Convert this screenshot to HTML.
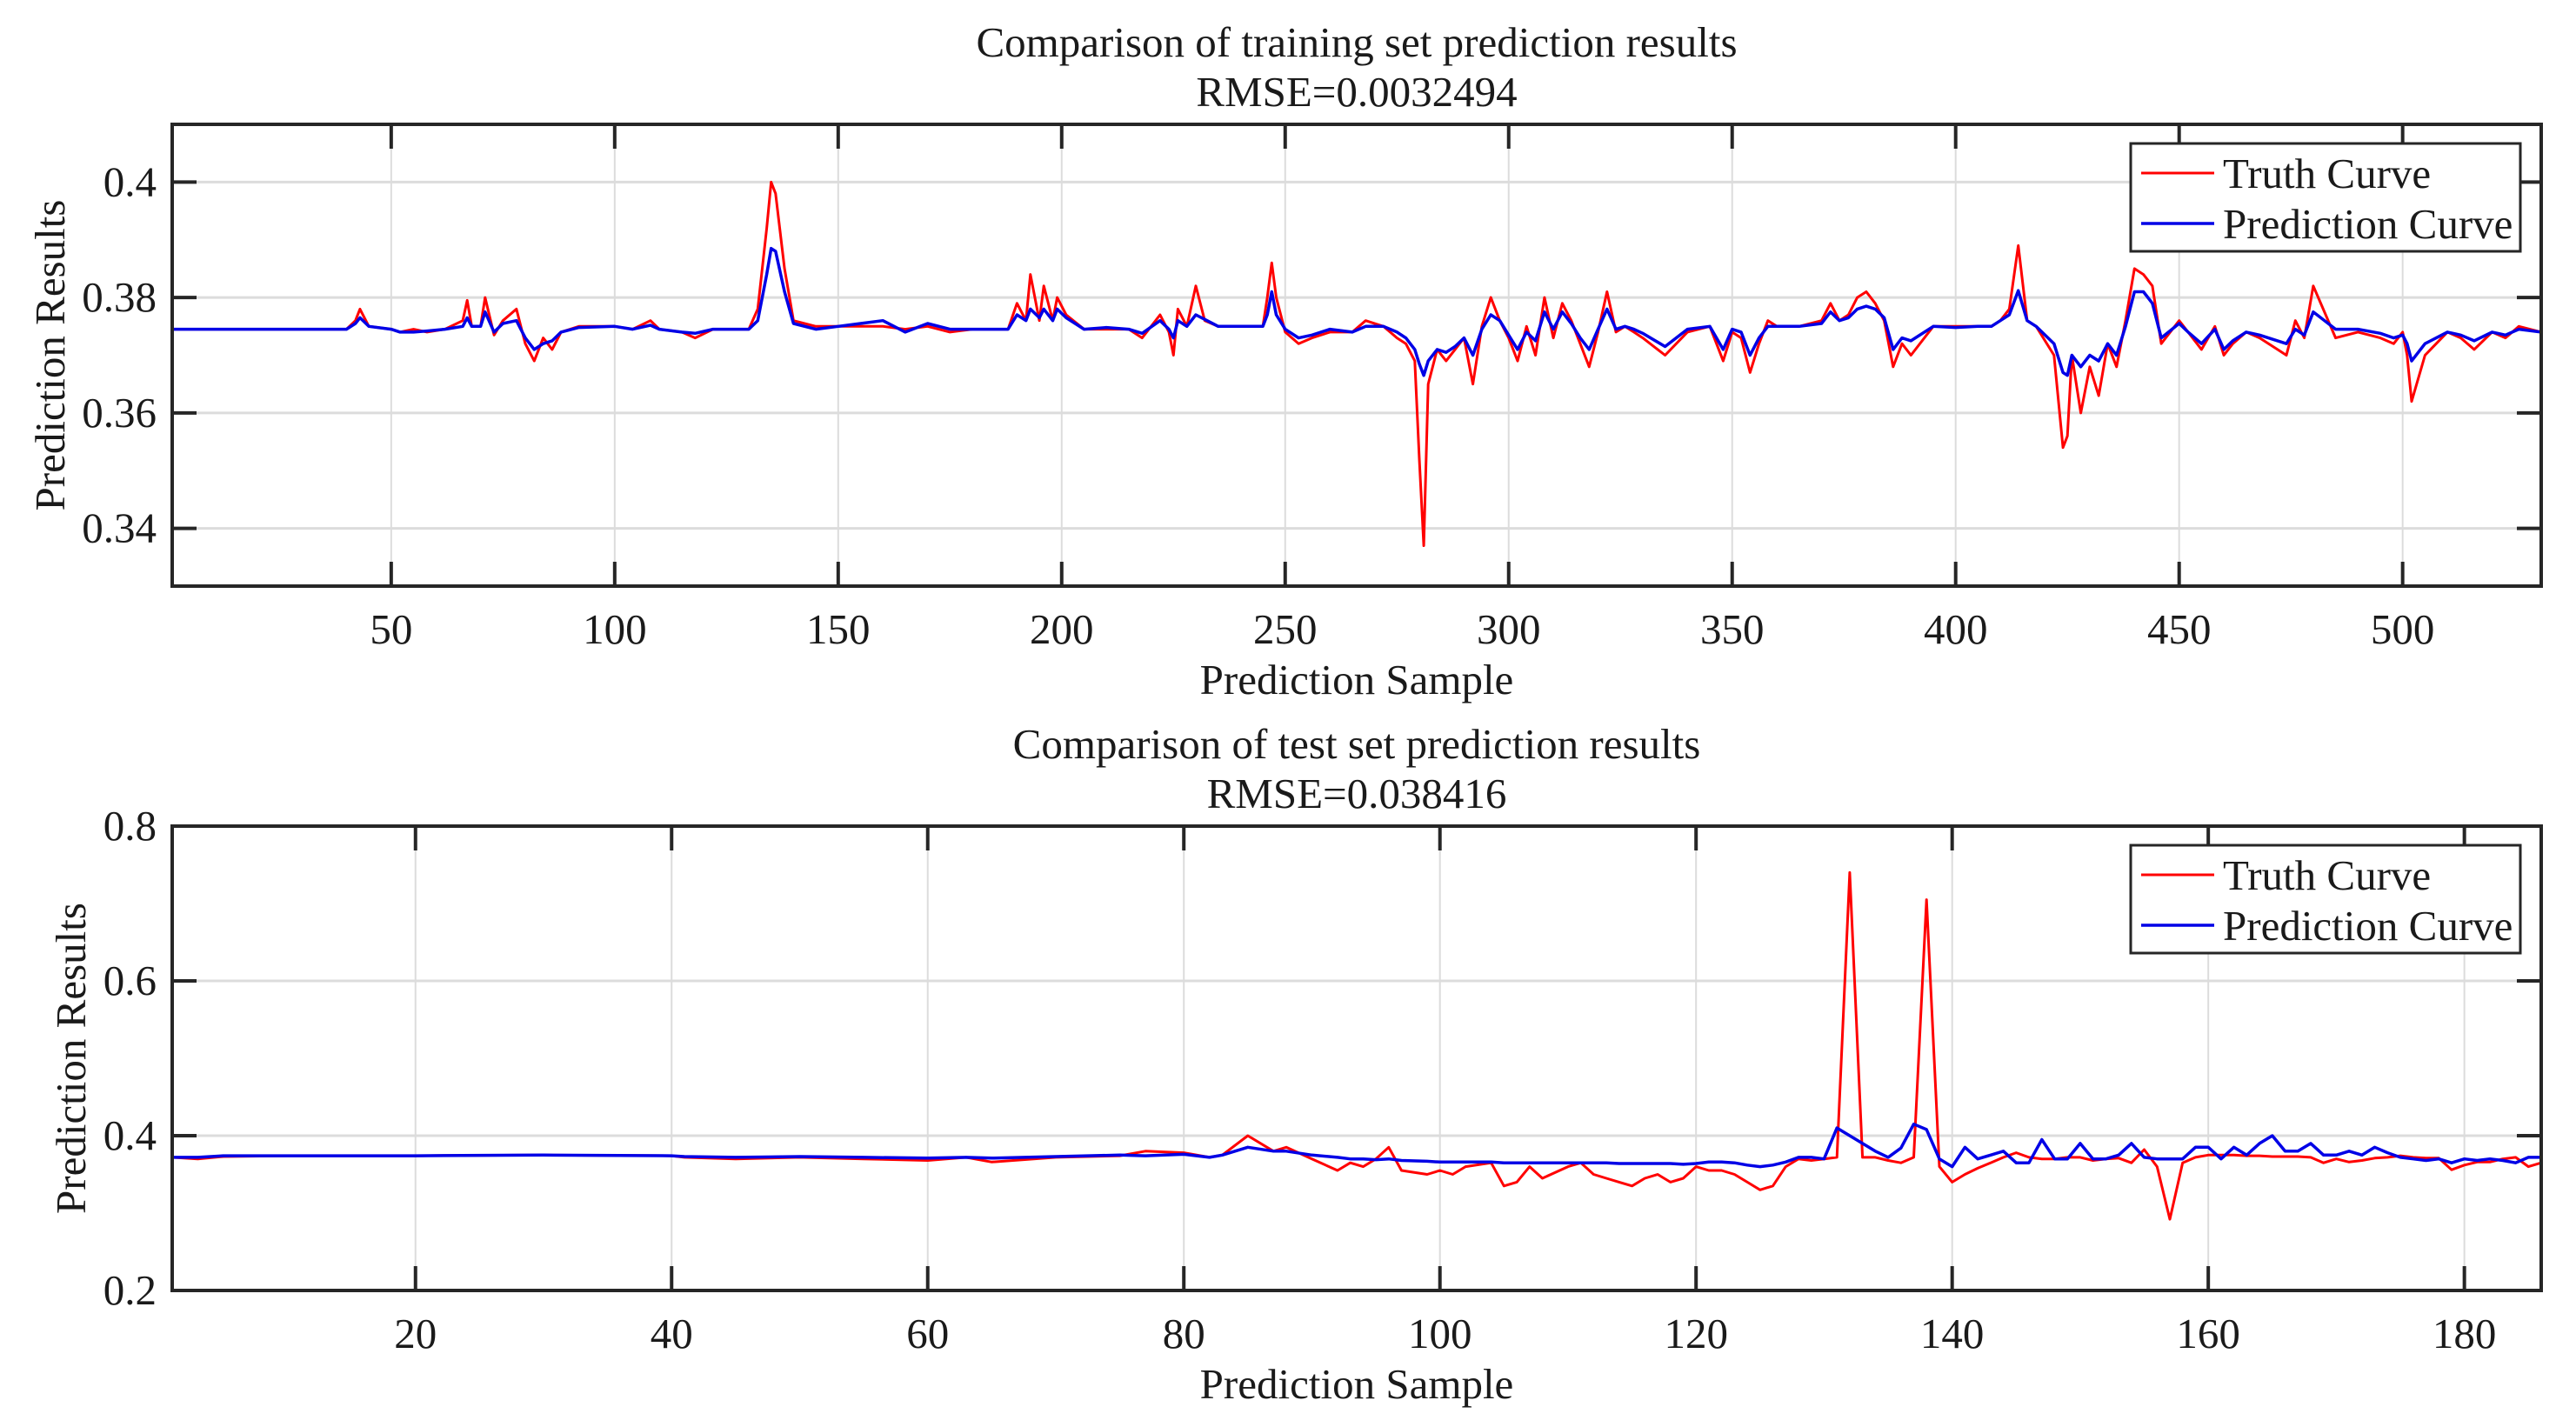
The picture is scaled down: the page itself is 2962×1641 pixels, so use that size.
<!DOCTYPE html>
<html><head><meta charset="utf-8">
<style>
html,body{margin:0;padding:0;background:#fff;}
svg{display:block;}
text{font-family:"Liberation Serif",serif;fill:#1a1a1a;}
</style></head>
<body>
<svg id="fig" width="2962" height="1641" viewBox="0 0 2962 1641" xmlns="http://www.w3.org/2000/svg"></svg>
<script>
// ---------- Training set data (key samples) ----------
const trainIdx   = [1,40,42,43,45,50,52,55,58,62,66,67,68,70,71,73,75,78,80,82,84,86,88,92,100,104,108,110,115,118,122,130,132,134,135,136,138,140,145,150,155,160,165,170,175,180,188,190,192,193,195,196,198,199,201,205,210,215,218,222,224,225,226,228,230,232,235,240,245,246,247,248,250,253,256,260,265,268,272,275,277,279,280,281,282,284,286,288,290,292,294,296,298,300,302,304,306,308,310,312,314,316,318,320,322,324,326,328,330,335,340,345,348,350,352,354,356,358,360,365,370,372,374,376,378,380,382,384,386,388,390,395,400,405,408,410,412,414,416,418,422,424,425,426,428,430,432,434,436,438,440,442,444,446,450,452,455,458,460,462,465,468,472,474,476,478,480,485,490,495,498,500,501,502,505,510,513,516,520,523,526,531];
const trainTruth = [0.3745,0.3745,0.376,0.378,0.375,0.3745,0.374,0.3745,0.374,0.3745,0.376,0.3795,0.375,0.375,0.380,0.3735,0.376,0.378,0.372,0.369,0.373,0.371,0.374,0.375,0.375,0.3745,0.376,0.3745,0.374,0.373,0.3745,0.3745,0.378,0.392,0.400,0.398,0.385,0.376,0.375,0.375,0.375,0.375,0.3745,0.375,0.374,0.3745,0.3745,0.379,0.376,0.384,0.376,0.382,0.376,0.380,0.377,0.3745,0.3745,0.3745,0.373,0.377,0.374,0.370,0.378,0.375,0.382,0.376,0.375,0.375,0.375,0.380,0.386,0.380,0.374,0.372,0.373,0.374,0.374,0.376,0.375,0.373,0.372,0.369,0.352,0.337,0.365,0.371,0.369,0.371,0.373,0.365,0.375,0.380,0.376,0.373,0.369,0.375,0.370,0.380,0.373,0.379,0.376,0.372,0.368,0.374,0.381,0.374,0.375,0.374,0.373,0.370,0.374,0.375,0.369,0.374,0.373,0.367,0.372,0.376,0.375,0.375,0.376,0.379,0.376,0.377,0.380,0.381,0.379,0.376,0.368,0.372,0.370,0.375,0.375,0.375,0.375,0.376,0.378,0.389,0.376,0.375,0.370,0.354,0.356,0.370,0.360,0.368,0.363,0.372,0.368,0.376,0.385,0.384,0.382,0.372,0.376,0.374,0.371,0.375,0.370,0.372,0.374,0.373,0.371,0.370,0.376,0.373,0.382,0.373,0.374,0.373,0.372,0.374,0.370,0.362,0.370,0.374,0.373,0.371,0.374,0.373,0.375,0.374,0.374];
const trainPred  = [0.3745,0.3745,0.3755,0.3765,0.375,0.3745,0.374,0.374,0.3742,0.3745,0.375,0.3765,0.375,0.375,0.3775,0.374,0.3755,0.376,0.373,0.371,0.372,0.3725,0.374,0.3748,0.375,0.3745,0.3752,0.3745,0.374,0.3738,0.3745,0.3745,0.376,0.384,0.3885,0.388,0.381,0.3755,0.3745,0.375,0.3755,0.376,0.374,0.3755,0.3745,0.3745,0.3745,0.377,0.376,0.378,0.3765,0.378,0.376,0.378,0.3765,0.3745,0.3748,0.3745,0.3738,0.376,0.3745,0.373,0.376,0.375,0.377,0.3762,0.375,0.375,0.375,0.377,0.381,0.377,0.3745,0.373,0.3735,0.3745,0.374,0.375,0.375,0.374,0.373,0.371,0.3685,0.3665,0.369,0.371,0.3705,0.3715,0.373,0.370,0.3745,0.377,0.376,0.3735,0.371,0.374,0.3725,0.3775,0.3745,0.3775,0.3755,0.373,0.371,0.3745,0.378,0.3745,0.375,0.3745,0.3738,0.3715,0.3745,0.375,0.371,0.3745,0.374,0.370,0.373,0.375,0.375,0.375,0.3755,0.3775,0.376,0.3765,0.378,0.3785,0.378,0.3765,0.371,0.373,0.3725,0.375,0.3748,0.375,0.375,0.376,0.377,0.3812,0.376,0.375,0.372,0.367,0.3665,0.370,0.368,0.370,0.369,0.372,0.370,0.375,0.381,0.381,0.379,0.373,0.3755,0.374,0.372,0.3745,0.371,0.3725,0.374,0.3735,0.3725,0.372,0.3745,0.3735,0.3775,0.3745,0.3745,0.3738,0.373,0.3735,0.372,0.369,0.372,0.374,0.3735,0.3725,0.374,0.3735,0.3745,0.374,0.3745];
const trainXTicks = [50,100,150,200,250,300,350,400,450,500];
const trainYTicks = [0.34,0.36,0.38,0.4];
const trainYLabels = ["0.34","0.36","0.38","0.4"];

// ---------- Test set data (key samples) ----------
const testIdx   = [1,3,5,10,20,30,40,41,45,50,55,60,63,65,70,75,77,80,82,83,85,87,88,90,92,93,94,95,96,97,99,100,101,102,104,105,106,107,108,110,111,112,113,114,115,116,117,118,119,120,121,122,123,124,125,126,127,128,129,130,131,132,133,134,135,136,137,138,139,140,141,142,143,144,145,146,147,148,149,150,151,152,153,154,155,156,157,158,159,160,161,162,163,164,165,166,167,168,169,170,171,172,173,174,175,176,177,178,179,180,181,182,183,184,185,186];
const testTruth = [0.372,0.370,0.373,0.374,0.374,0.375,0.374,0.372,0.370,0.372,0.370,0.368,0.372,0.366,0.372,0.374,0.380,0.378,0.372,0.375,0.400,0.380,0.385,0.370,0.355,0.365,0.360,0.370,0.385,0.355,0.350,0.355,0.350,0.360,0.365,0.335,0.340,0.360,0.345,0.360,0.365,0.350,0.345,0.340,0.335,0.345,0.350,0.340,0.345,0.360,0.355,0.355,0.350,0.340,0.330,0.335,0.360,0.370,0.368,0.370,0.372,0.740,0.372,0.372,0.368,0.365,0.372,0.705,0.360,0.340,0.350,0.358,0.365,0.372,0.378,0.372,0.370,0.370,0.372,0.372,0.368,0.370,0.371,0.365,0.382,0.360,0.292,0.365,0.372,0.375,0.375,0.375,0.374,0.374,0.373,0.373,0.373,0.372,0.365,0.370,0.366,0.368,0.371,0.372,0.374,0.372,0.371,0.371,0.356,0.362,0.366,0.366,0.370,0.372,0.360,0.365];
const testPred  = [0.372,0.372,0.374,0.374,0.374,0.375,0.374,0.373,0.372,0.373,0.372,0.371,0.372,0.371,0.373,0.375,0.374,0.376,0.372,0.375,0.385,0.380,0.380,0.375,0.372,0.370,0.370,0.369,0.370,0.368,0.367,0.366,0.366,0.366,0.366,0.365,0.365,0.365,0.365,0.365,0.365,0.365,0.365,0.364,0.364,0.364,0.364,0.364,0.363,0.364,0.366,0.366,0.365,0.362,0.360,0.362,0.366,0.372,0.372,0.370,0.410,0.400,0.390,0.380,0.372,0.384,0.415,0.408,0.370,0.360,0.385,0.370,0.375,0.380,0.365,0.365,0.395,0.370,0.370,0.390,0.370,0.370,0.375,0.390,0.372,0.370,0.370,0.370,0.385,0.385,0.370,0.385,0.375,0.390,0.400,0.380,0.380,0.390,0.375,0.375,0.380,0.375,0.385,0.378,0.372,0.370,0.368,0.370,0.365,0.370,0.368,0.370,0.368,0.365,0.372,0.372];
const testXTicks = [20,40,60,80,100,120,140,160,180];
const testYTicks = [0.2,0.4,0.6,0.8];
const testYLabels = ["0.2","0.4","0.6","0.8"];

const NS="http://www.w3.org/2000/svg";
const svg=document.getElementById('fig');
const FS=49;
function mk(tag,attrs,parent){const e=document.createElementNS(NS,tag);for(const k in attrs)e.setAttribute(k,attrs[k]);(parent||svg).appendChild(e);return e;}

function panel(o){
  const g=mk('g',{});
  
  
  const L=198,R=2922,T=o.top,B=o.bottom;
  const sx=v=>L+(v-o.xmin)/(o.xmax-o.xmin)*(R-L);
  const sy=v=>B-(v-o.ymin)/(o.ymax-o.ymin)*(B-T);
  mk('rect',{x:L,y:T,width:R-L,height:B-T,fill:'#fff'},g);
  o.xt.forEach(t=>{const l=mk('line',{x1:sx(t),x2:sx(t),y1:T,y2:B,stroke:'#dcdcdc','stroke-width':2},g);
    
    });
  o.yt.forEach(t=>{const l=mk('line',{x1:L,x2:R,y1:sy(t),y2:sy(t),stroke:'#dcdcdc','stroke-width':3},g);
    
    });
  const pts=(ix,vals)=>ix.map((x,i)=>sx(x).toFixed(1)+','+sy(vals[i]).toFixed(1)).join(' ');
  const pr=mk('polyline',{points:pts(o.idx,o.truth),fill:'none',stroke:'#ff0000','stroke-width':3,'stroke-linejoin':'round'},g);
  
  
  const pb=mk('polyline',{points:pts(o.idx,o.pred),fill:'none',stroke:'#0000e6','stroke-width':3.5,'stroke-linejoin':'round'},g);
  
  
  const fr=mk('rect',{x:L,y:T,width:R-L,height:B-T,fill:'none',stroke:'#262626','stroke-width':4},g);
  
  
  o.xt.forEach(t=>{
    mk('line',{x1:sx(t),x2:sx(t),y1:B,y2:B-28,stroke:'#262626','stroke-width':4},g);
    mk('line',{x1:sx(t),x2:sx(t),y1:T,y2:T+28,stroke:'#262626','stroke-width':4},g);
    const tx=mk('text',{x:sx(t),y:B+66,'font-size':FS,'text-anchor':'middle'},g);tx.textContent=t;
    
    
  });
  o.yt.forEach((t,i)=>{
    mk('line',{x1:L,x2:L+28,y1:sy(t),y2:sy(t),stroke:'#262626','stroke-width':4},g);
    mk('line',{x1:R,x2:R-28,y1:sy(t),y2:sy(t),stroke:'#262626','stroke-width':4},g);
    const tx=mk('text',{x:180,y:sy(t)+16,'font-size':FS,'text-anchor':'end'},g);tx.textContent=o.yl[i];
    
    
  });
  const t1=mk('text',{x:1560,y:T-78,'font-size':FS,'text-anchor':'middle'},g);t1.textContent=o.title;
  
  
  const t2=mk('text',{x:1560,y:T-21,'font-size':FS,'text-anchor':'middle'},g);t2.textContent=o.rmse;
  
  
  const xl=mk('text',{x:1560,y:B+124,'font-size':FS,'text-anchor':'middle'},g);xl.textContent='Prediction Sample';
  
  
  const cy=(T+B)/2;
  const yl=mk('text',{x:o.ylx,y:cy,'font-size':FS,'text-anchor':'middle',transform:'rotate(-90 '+o.ylx+' '+cy+')'},g);yl.textContent='Prediction Results';
  
  
  const lg=mk('g',{},g);
  
  
  const lx=2450,ly=T+22;
  mk('rect',{x:lx,y:ly,width:448,height:124,fill:'#fff',stroke:'#262626','stroke-width':3},lg);
  mk('line',{x1:lx+12,x2:lx+96,y1:ly+34,y2:ly+34,stroke:'#ff0000','stroke-width':3},lg);
  mk('line',{x1:lx+12,x2:lx+96,y1:ly+92,y2:ly+92,stroke:'#0000e6','stroke-width':3.5},lg);
  const e1=mk('text',{x:lx+106,y:ly+51,'font-size':FS},lg);e1.textContent='Truth Curve';
  
  
  const e2=mk('text',{x:lx+106,y:ly+109,'font-size':FS},lg);e2.textContent='Prediction Curve';
  
  
}

panel({name:'training',top:143,bottom:674,xmin:1,xmax:531,ymin:0.33,ymax:0.41,
  xt:trainXTicks,yt:trainYTicks,yl:trainYLabels,idx:trainIdx,truth:trainTruth,pred:trainPred,
  title:'Comparison of training set prediction results',rmse:'RMSE=0.0032494',ylx:74});
panel({name:'test',top:950,bottom:1484,xmin:1,xmax:186,ymin:0.2,ymax:0.8,
  xt:testXTicks,yt:testYTicks,yl:testYLabels,idx:testIdx,truth:testTruth,pred:testPred,
  title:'Comparison of test set prediction results',rmse:'RMSE=0.038416',ylx:98});
</script>
</body></html>
